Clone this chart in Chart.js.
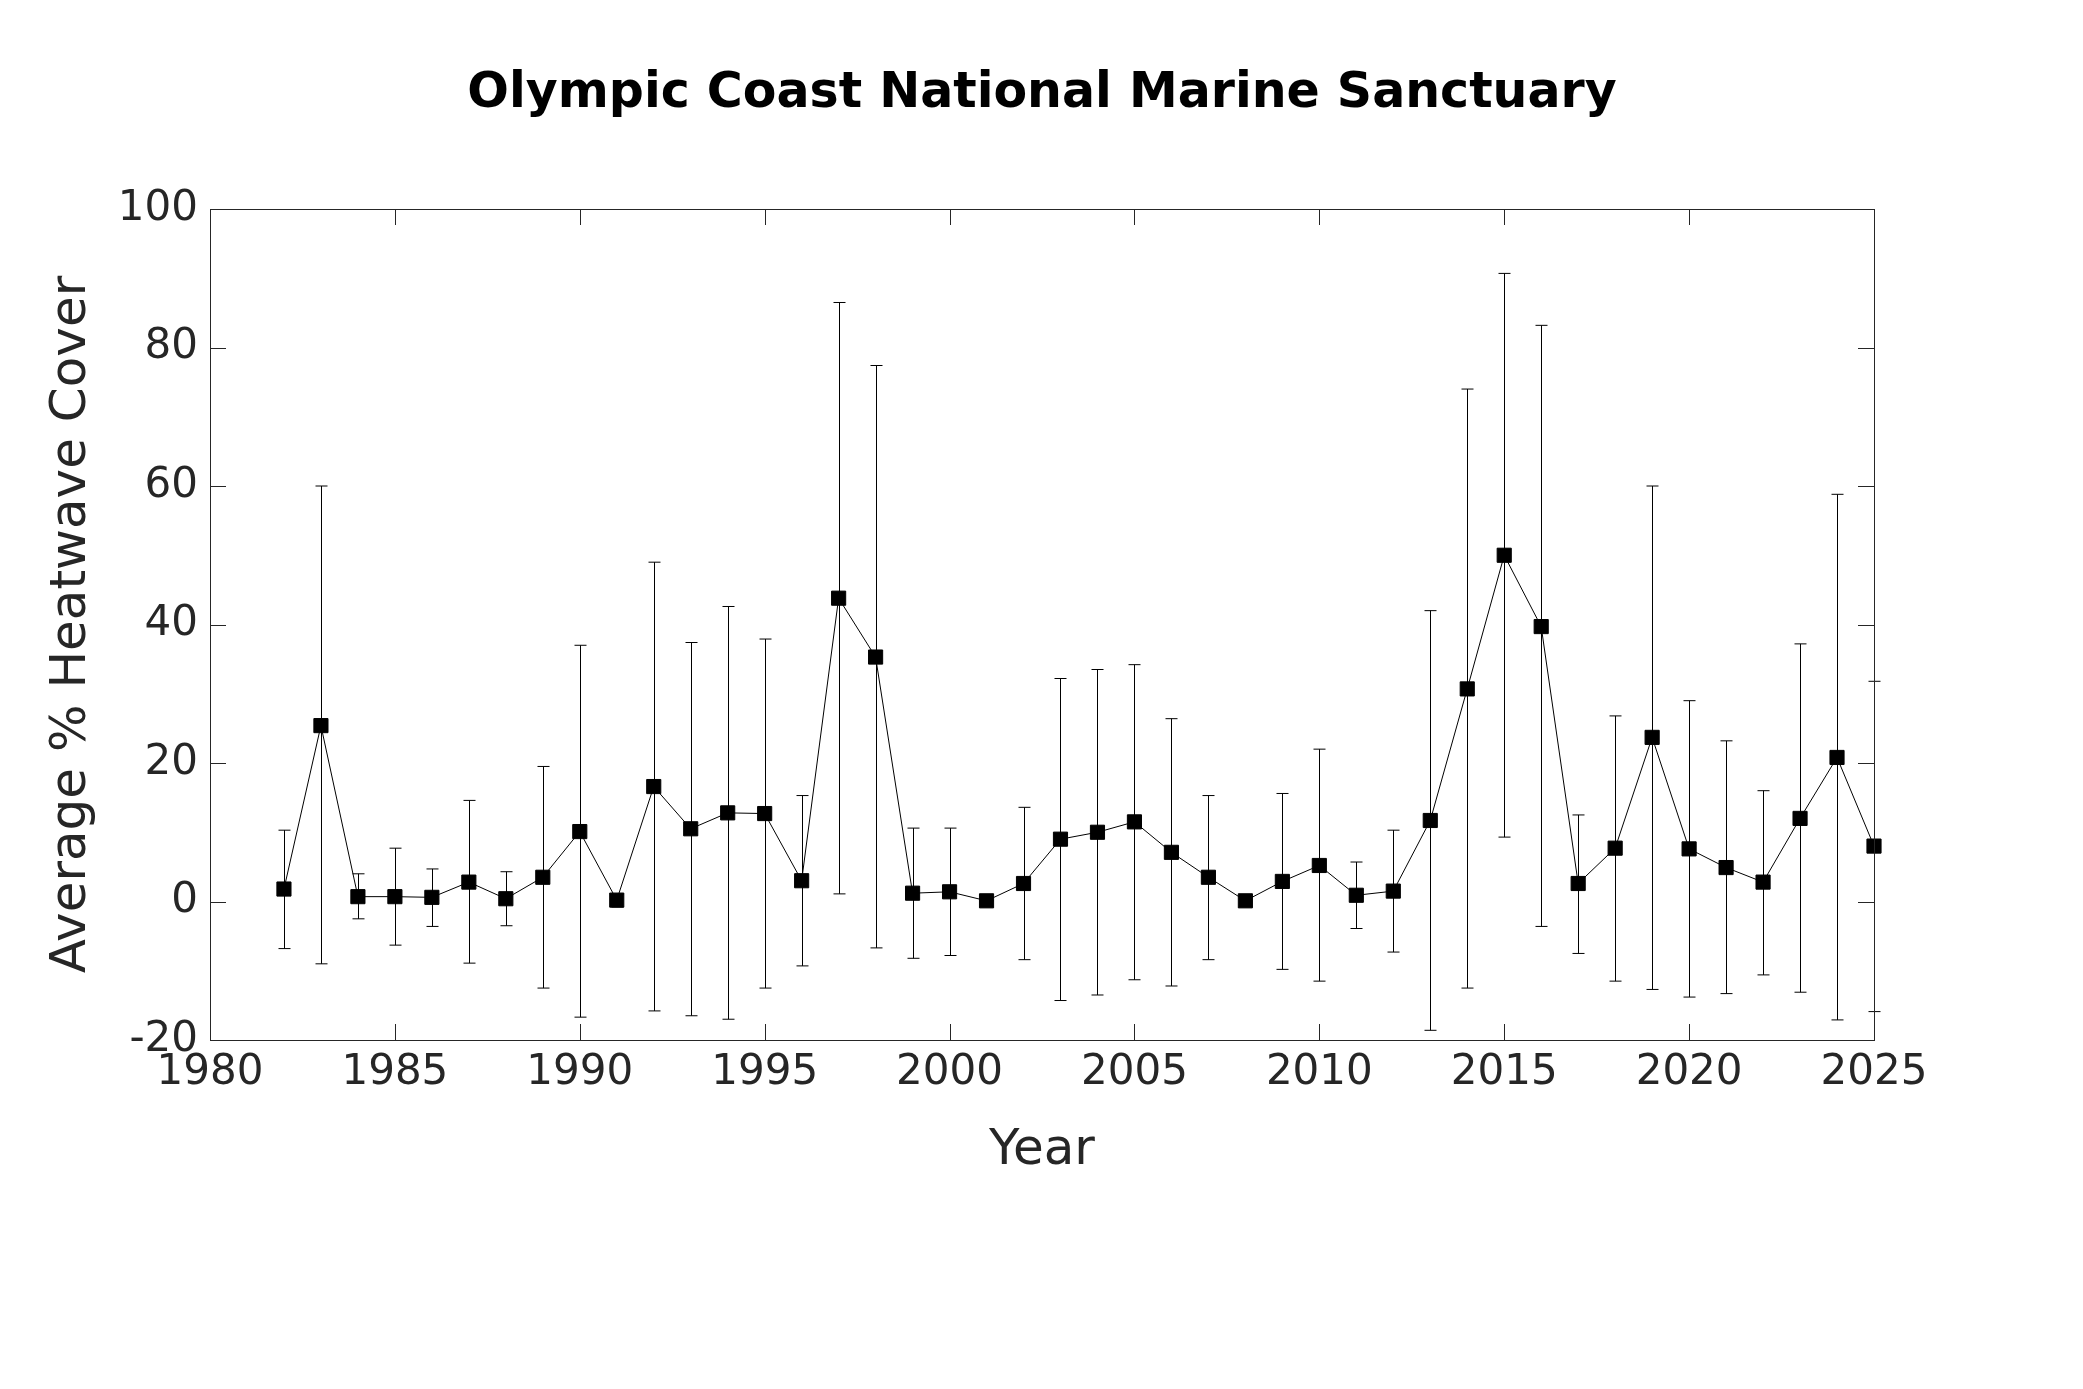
<!DOCTYPE html>
<html>
<head>
<meta charset="utf-8">
<script src="https://cdn.jsdelivr.net/npm/chart.js@4.4.4/dist/chart.umd.min.js"></script>
<style>
  html, body { margin: 0; padding: 0; background: #fff; }
  #wrap { width: 2083px; height: 1389px; }
</style>
</head>
<body>
<div id="wrap"><canvas id="c" width="2083" height="1389"></canvas></div>
<script>
// Yearly mean heatwave cover with error bar limits
const years = [1982, 1983, 1984, 1985, 1986, 1987, 1988, 1989, 1990, 1991, 1992, 1993, 1994, 1995,
  1996, 1997, 1998, 1999, 2000, 2001, 2002, 2003, 2004, 2005, 2006, 2007, 2008, 2009, 2010, 2011,
  2012, 2013, 2014, 2015, 2016, 2017, 2018, 2019, 2020, 2021, 2022, 2023, 2024, 2025]
const meanCover = [1.8, 25.4, 0.7, 0.7, 0.6, 2.8, 0.4, 3.5, 10.1, 0.2, 16.6, 10.5, 12.8, 12.7,
  3.0, 43.8, 35.3, 1.2, 1.4, 0.1, 2.6, 9.0, 10.0, 11.5, 7.1, 3.5, 0.1, 2.9, 5.2, 0.9,
  1.5, 11.7, 30.7, 50.0, 39.7, 2.6, 7.7, 23.7, 7.6, 4.9, 2.8, 12.0, 20.8, 8.0]
const upperLimit = [10.3, 60.0, 4.0, 7.7, 4.7, 14.6, 4.3, 19.5, 37.0, 1.0, 49.0, 37.4, 42.6, 37.9,
  15.3, 86.5, 77.4, 10.6, 10.6, 0.1, 13.6, 32.2, 33.5, 34.2, 26.4, 15.3, 0.1, 15.6, 22.0, 5.7,
  10.3, 42.0, 74.0, 90.7, 83.2, 12.5, 26.8, 60.0, 29.0, 23.2, 16.0, 37.2, 58.8, 31.8]
const lowerLimit = [-6.8, -9.0, -2.5, -6.3, -3.6, -8.9, -3.5, -12.5, -16.7, -0.8, -15.8, -16.5, -17.0, -12.5,
  -9.3, 1.1, -6.7, -8.2, -7.8, 0.1, -8.4, -14.3, -13.5, -11.3, -12.2, -8.4, 0.1, -9.8, -11.5, -3.9,
  -7.3, -18.6, -12.5, 9.3, -3.6, -7.5, -11.5, -12.7, -13.8, -13.3, -10.6, -13.1, -17.1, -15.9]
const xTicks = [1980, 1985, 1990, 1995, 2000, 2005, 2010, 2015, 2020, 2025]
const yTicks = [-20, 0, 20, 40, 60, 80, 100]

const TEXT = "#262626"
const FONT = "DejaVu Sans"

const points = years.map((y, i) => ({ x: y, y: meanCover[i] }))

// error bars + inner ticks + tick labels + titles
const extras = {
  id: "extras",
  beforeDatasetsDraw(chart) {
    const { ctx, scales: { x, y } } = chart
    ctx.save()
    ctx.strokeStyle = "#000"
    ctx.lineWidth = 1
    years.forEach((yr, i) => {
      const px = Math.round(x.getPixelForValue(yr)) + 0.5
      const t = y.getPixelForValue(upperLimit[i])
      const b = y.getPixelForValue(lowerLimit[i])
      ctx.beginPath()
      ctx.moveTo(px, t); ctx.lineTo(px, b)
      ctx.moveTo(px - 6, t); ctx.lineTo(px + 6, t)
      ctx.moveTo(px - 6, b); ctx.lineTo(px + 6, b)
      ctx.stroke()
    })
    ctx.restore()
  },
  afterDraw(chart) {
    const { ctx, chartArea: a, scales: { x, y } } = chart
    ctx.save()
    ctx.strokeStyle = "#262626"
    ctx.lineWidth = 1
    ctx.beginPath()
    xTicks.forEach(v => {
      const px = Math.round(x.getPixelForValue(v)) + 0.5
      ctx.moveTo(px, a.bottom); ctx.lineTo(px, a.bottom - 16)
      ctx.moveTo(px, a.top); ctx.lineTo(px, a.top + 16)
    })
    yTicks.forEach(v => {
      const py = Math.round(y.getPixelForValue(v)) + 0.5
      ctx.moveTo(a.left, py); ctx.lineTo(a.left + 16, py)
      ctx.moveTo(a.right, py); ctx.lineTo(a.right - 16, py)
    })
    ctx.stroke()
    ctx.strokeRect(a.left + 0.5, a.top + 0.5, a.right - a.left, a.bottom - a.top)

    ctx.fillStyle = TEXT
    ctx.font = `42px ${FONT}`
    ctx.textAlign = "center"
    ctx.textBaseline = "top"
    xTicks.forEach(v => ctx.fillText(String(v), x.getPixelForValue(v), a.bottom + 12))
    ctx.textAlign = "right"
    ctx.textBaseline = "middle"
    yTicks.forEach(v => ctx.fillText(String(v), a.left - 12, y.getPixelForValue(v)))

    ctx.fillStyle = "#000"
    ctx.textAlign = "center"
    ctx.font = `bold 49px ${FONT}`
    ctx.fillText("Olympic Coast National Marine Sanctuary", (a.left + a.right) / 2, 94)
    ctx.fillStyle = TEXT
    ctx.font = `50px ${FONT}`
    ctx.fillText("Year", (a.left + a.right) / 2, 1151)
    ctx.translate(72, (a.top + a.bottom) / 2)
    ctx.rotate(-Math.PI / 2)
    ctx.fillText("Average % Heatwave Cover", 0, 0)
    ctx.restore()
  }
}

new Chart(document.getElementById("c"), {
  type: "scatter",
  data: {
    datasets: [{
      data: points,
      showLine: true,
      borderColor: "#000",
      borderWidth: 1,
      pointStyle: "rect",
      pointRadius: 10,
      pointBackgroundColor: "#000",
      pointBorderColor: "#000",
      clip: false
    }]
  },
  plugins: [extras],
  options: {
    responsive: false,
    animation: false,
    layout: { padding: { left: 210, right: 209, top: 209, bottom: 349 } },
    plugins: { legend: { display: false }, tooltip: { enabled: false } },
    scales: {
      x: {
        type: "linear", min: 1980, max: 2025,
        afterFit: (s) => { s.height = 0 },
        ticks: { display: false, stepSize: 5 },
        grid: { display: false, drawTicks: false },
        border: { display: false }
      },
      y: {
        min: -20, max: 100,
        afterFit: (s) => { s.width = 0 },
        ticks: { display: false, stepSize: 20 },
        grid: { display: false, drawTicks: false },
        border: { display: false }
      }
    }
  }
})
</script>
</body>
</html>
